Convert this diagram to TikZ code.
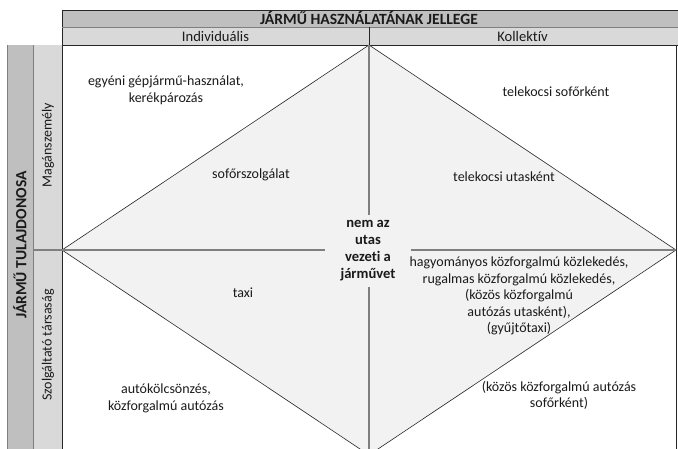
\documentclass[tikz,border=0pt]{standalone}
\usepackage{fontspec}
\setmainfont{Carlito}[Ligatures=NoCommon]
\definecolor{hdrdark}{HTML}{BFBFBF}
\definecolor{hdrlight}{HTML}{D9D9D9}
\definecolor{diafill}{HTML}{F2F2F2}
\definecolor{midline}{HTML}{7F7F7F}
\definecolor{ink}{HTML}{1A1A1A}
\begin{document}
\begin{tikzpicture}[x=1pt,y=-1pt,
  lbl/.style={font=\fontsize{14}{16.5}\selectfont, text=ink, align=center, inner sep=0pt},
  hdr/.style={lbl, font=\fontsize{14.6}{17}\selectfont\bfseries},
  bighdr/.style={lbl, font=\fontsize{15.6}{17}\selectfont\bfseries},
  frame/.style={draw=black!85, line width=0.6pt},
  axis/.style={draw=midline, line width=1.2pt}]
\useasboundingbox (0,0) rectangle (678,449);
\clip (0,0) rectangle (678,449);

% header band
\fill[hdrdark] (62,10) rectangle (680,27.5);
\fill[hdrlight] (62,27.5) rectangle (680,45);
\draw[frame] (680,10) -- (62,10) -- (62,460);
\draw[draw=midline, line width=0.6pt] (62,27.5) -- (680,27.5);
\draw[frame] (7,45) -- (680,45);
\draw[frame] (369,27.5) -- (369,45);

% left band
\fill[hdrdark] (7,45) rectangle (33,460);
\fill[hdrlight] (33,45) rectangle (62,460);
\draw[draw=midline, line width=0.6pt] (7,45) -- (7,460);
\draw[draw=midline, line width=0.6pt] (33,45) -- (33,460);
\draw[frame] (676,45) -- (676,460);

% diamond
\coordinate (T) at (369,45);
\coordinate (R) at (676,250);
\coordinate (B) at (369,455);
\coordinate (L) at (62,250);
\coordinate (Lc) at (33,250);
\filldraw[fill=diafill, frame] (T) -- (R) -- (B) -- (L) -- cycle;

% centre label splitting the axes
\node[hdr, minimum width=85pt, minimum height=71pt]
  (core) at (368,251) {nem az\\utas\\vezeti a\\járművet};
\draw[axis] (T) -- (T |- core.north);
\draw[axis] (B |- core.south) -- (B);
\draw[axis] (Lc) -- (core.west |- Lc);
\draw[axis] (core.east |- R) -- (R);

% header texts
\node[bighdr] (title) at (369,18.5) {JÁRMŰ HASZNÁLATÁNAK JELLEGE};
\node[lbl, font=\fontsize{14.6}{17}\selectfont] (indiv) at (215.5,36) {Individuális};
\node[lbl, font=\fontsize{14.6}{17}\selectfont] (koll) at (522.5,36) {Kollektív};
\node[bighdr, rotate=90] (owner) at (20,245) {JÁRMŰ TULAJDONOSA};
\node[lbl, rotate=90] (priv) at (48,145) {Magánszemély};
\node[lbl, rotate=90] (serv) at (48,345) {Szolgáltató társaság};

% quadrant texts
\node[lbl] (q1) at (166,90.5) {egyéni gépjármű-használat,\\kerékpározás};
\node[lbl] (q2) at (251,175) {sofőrszolgálat};
\node[lbl] (q3) at (556,92) {telekocsi sofőrként};
\node[lbl] (q4) at (504,177) {telekocsi utasként};
\node[lbl] (q5) at (519,296) {hagyományos közforgalmú közlekedés,\\rugalmas közforgalmú közlekedés,\\(közös közforgalmú\\autózás utasként),\\(gyűjtőtaxi)};
\node[lbl] (q6) at (243,293) {taxi};
\node[lbl] (q7) at (166,398.5) {autókölcsönzés,\\közforgalmú autózás};
\node[lbl] (q8) at (559,395.5) {(közös közforgalmú autózás\\sofőrként)};
\end{tikzpicture}
\end{document}
